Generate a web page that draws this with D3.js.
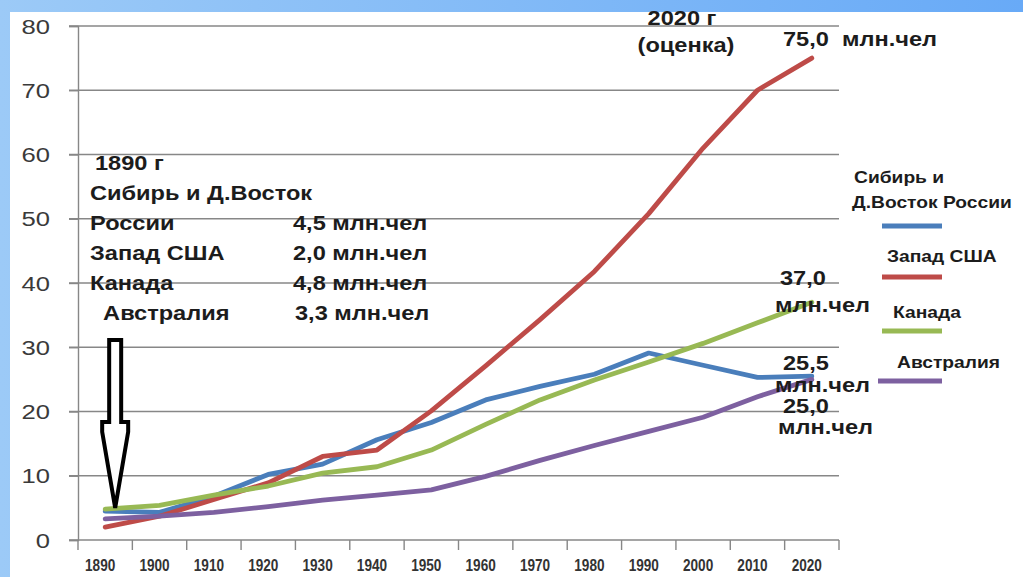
<!DOCTYPE html>
<html>
<head>
<meta charset="utf-8">
<script src="https://cdn.jsdelivr.net/npm/d3@7"></script>
<style>
  html, body { margin: 0; padding: 0; background: #fff; }
  svg { display: block; }
  text { font-family: "Liberation Sans", Arial, sans-serif; }
</style>
</head>
<body>
<svg id="chart" width="1023" height="577"></svg>
<script>
// ---- data ----
const years = [1890, 1900, 1910, 1920, 1930, 1940, 1950, 1960, 1970, 1980, 1990, 2000, 2010, 2020];
const siberia   = [4.5, 4.3, 6.8, 10.2, 11.8, 15.6, 18.3, 21.8, 23.9, 25.8, 29.1, 27.2, 25.3, 25.5];
const usaWest   = [2.0, 3.7, 6.3, 8.9, 13.0, 14.0, 20.1, 27.1, 34.3, 41.8, 50.8, 61.0, 70.0, 75.0];
const canada    = [4.8, 5.4, 7.0, 8.4, 10.4, 11.4, 14.0, 18.0, 21.8, 24.9, 27.7, 30.6, 33.8, 37.0];
const australia = [3.3, 3.7, 4.3, 5.2, 6.2, 7.0, 7.8, 9.9, 12.4, 14.7, 16.9, 19.1, 22.3, 25.0];
const seriesNames = ["Сибирь и\nД.Восток России", "Запад США", "Канада", "Австралия"];
const yTicks = [0, 10, 20, 30, 40, 50, 60, 70, 80];
const note1890 = [
  ["1890 г", ""],
  ["Сибирь и Д.Восток", ""],
  ["России", "4,5 млн.чел"],
  ["Запад США", "2,0 млн.чел"],
  ["Канада", "4,8 млн.чел"],
  ["  Австралия", "3,3 млн.чел"]
];

const colors = ["#4a7ebb", "#be4b48", "#98b954", "#7d60a0"];
const seriesData = [siberia, usaWest, canada, australia];

const svg = d3.select("#chart");
const W = 1023, H = 577;

// background frame (blue band top & left)
const defs = svg.append("defs");
const grad = defs.append("linearGradient").attr("id", "bg").attr("x1", "0").attr("x2", "1").attr("y1", "0").attr("y2", "0");
grad.append("stop").attr("offset", "0").attr("stop-color", "#9ccaf7");
grad.append("stop").attr("offset", "1").attr("stop-color", "#68aaf7");
svg.append("rect").attr("width", W).attr("height", H).attr("fill", "url(#bg)");
svg.append("rect").attr("x", 10).attr("y", 12).attr("width", W - 10).attr("height", H - 12).attr("fill", "#fff");

// ---- scales ----
const x = d3.scaleBand().domain(years).range([78, 839]).paddingInner(0).paddingOuter(0);
const y = d3.scaleLinear().domain([0, 80]).range([540, 26]);
const cx = d => x(d) + x.bandwidth() / 2;

const SX = 1.18; // horizontal stretch of the picture's lettering
function stext(g, str, px, py, opts) {
  const t = g.append("text")
    .attr("transform", `translate(${px},${py}) scale(${opts.sx || SX},1)`)
    .attr("font-size", opts.size || 20)
    .attr("font-weight", opts.weight || "bold")
    .attr("fill", opts.fill || "#1c1c1c")
    .attr("text-anchor", opts.anchor || "start")
    .attr("xml:space", "preserve")
    .style("white-space", "pre")
    .text(str);
  return t;
}

// ---- grid ----
svg.append("g").selectAll("line").data(yTicks.filter(v => v > 0)).join("line")
  .attr("x1", 69).attr("x2", 839)
  .attr("y1", d => y(d)).attr("y2", d => y(d))
  .attr("stroke", "#878787").attr("stroke-width", 1.4);

// y axis
const yAxis = svg.append("g").attr("transform", "translate(78,0)")
  .call(d3.axisLeft(y).tickValues(yTicks).tickSize(9).tickFormat(d3.format("d")));
yAxis.select(".domain").attr("stroke", "#878787").attr("stroke-width", 1.4);
yAxis.selectAll(".tick line").attr("stroke", "#878787").attr("stroke-width", 1.4);
yAxis.selectAll(".tick text")
  .attr("x", 0).attr("dy", null)
  .attr("transform", `translate(-28,7) scale(1.22,1)`)
  .attr("font-size", 21).attr("fill", "#3a3a3a")
  .attr("font-family", "Liberation Sans, Arial, sans-serif");

// x axis
const xAxis = svg.append("g").attr("transform", "translate(0,540)")
  .call(d3.axisBottom(x).tickSize(0).tickFormat(d3.format("d")));
xAxis.select(".domain").attr("stroke", "#878787").attr("stroke-width", 1.4).attr("d", "M69,0H839");
xAxis.selectAll(".tick text")
  .attr("y", 0).attr("dy", null)
  .attr("transform", "translate(-5,31) scale(0.8,1)")
  .attr("font-size", 17).attr("font-weight", "bold").attr("fill", "#333")
  .attr("font-family", "Liberation Sans, Arial, sans-serif");
svg.append("g").selectAll("line").data(years.map(d => x(d)).concat([x.range()[1]])).join("line")
  .attr("x1", d => d).attr("x2", d => d).attr("y1", 540).attr("y2", 550)
  .attr("stroke", "#878787").attr("stroke-width", 1.4);

// ---- lines ----
const line = d3.line().x((v, i) => cx(years[i])).y(v => y(v));
svg.append("g").selectAll("path").data(seriesData).join("path")
  .attr("d", d => line(d))
  .attr("fill", "none")
  .attr("stroke", (d, i) => colors[i])
  .attr("stroke-width", 4.8)
  .attr("stroke-linejoin", "round")
  .attr("stroke-linecap", "round");

// ---- annotation 1890 ----
const ann = svg.append("g");
const annY0 = 170, annStep = 30;
note1890.forEach((row, i) => {
  const lx = i === 0 ? 95 : 90;
  stext(ann, row[0], lx, annY0 + i * annStep, {});
  if (row[1]) stext(ann, row[1], i === 5 ? 295 : 293, annY0 + i * annStep, {});
});

// arrow pointing to 1890 values
const tipX = cx(1890) + 10, tipY = y(5);
const arrowPts = [
  [-6, -168], [6, -168], [6, -86], [13, -86], [13, -76], [0, 0], [-13, -76], [-13, -86], [-6, -86]
].map(p => [tipX + p[0], tipY + p[1]]);
svg.append("polygon")
  .attr("points", arrowPts.map(p => p.join(",")).join(" "))
  .attr("fill", "#fff").attr("stroke", "#000").attr("stroke-width", 4)
  .attr("stroke-linejoin", "miter");

// ---- end labels ----
const lab = svg.append("g");
stext(lab, "2020 г", 682, 25, { anchor: "middle" });
stext(lab, "(оценка)", 686, 52, { anchor: "middle" });
stext(lab, "75,0  млн.чел", 783, 46, {});
stext(lab, "37,0", 780, 285, {});
stext(lab, "млн.чел", 775, 312, {});
stext(lab, "25,5", 783, 370, {});
stext(lab, "млн.чел", 775, 392, {});
stext(lab, "25,0", 783, 413, {});
stext(lab, "млн.чел", 778, 434, {});

// ---- legend ----
const leg = svg.append("g");
const legText = [
  { lines: seriesNames[0].split("\n"), xs: [854, 852], ys: [183, 208] },
  { lines: [seriesNames[1]], xs: [887], ys: [262] },
  { lines: [seriesNames[2]], xs: [893], ys: [318] },
  { lines: [seriesNames[3]], xs: [897], ys: [368] }
];
const legLineY = [226, 277, 331, 381];
const legLineX0 = [882, 882, 882, 878];
legText.forEach((it, i) => {
  it.lines.forEach((s, j) => stext(leg, s, it.xs[j], it.ys[j], { size: 16.3 }));
});
leg.selectAll("line").data(colors).join("line")
  .attr("x1", (d, i) => legLineX0[i]).attr("x2", 942)
  .attr("y1", (d, i) => legLineY[i]).attr("y2", (d, i) => legLineY[i])
  .attr("stroke", d => d).attr("stroke-width", 5);
</script>
</body>
</html>
